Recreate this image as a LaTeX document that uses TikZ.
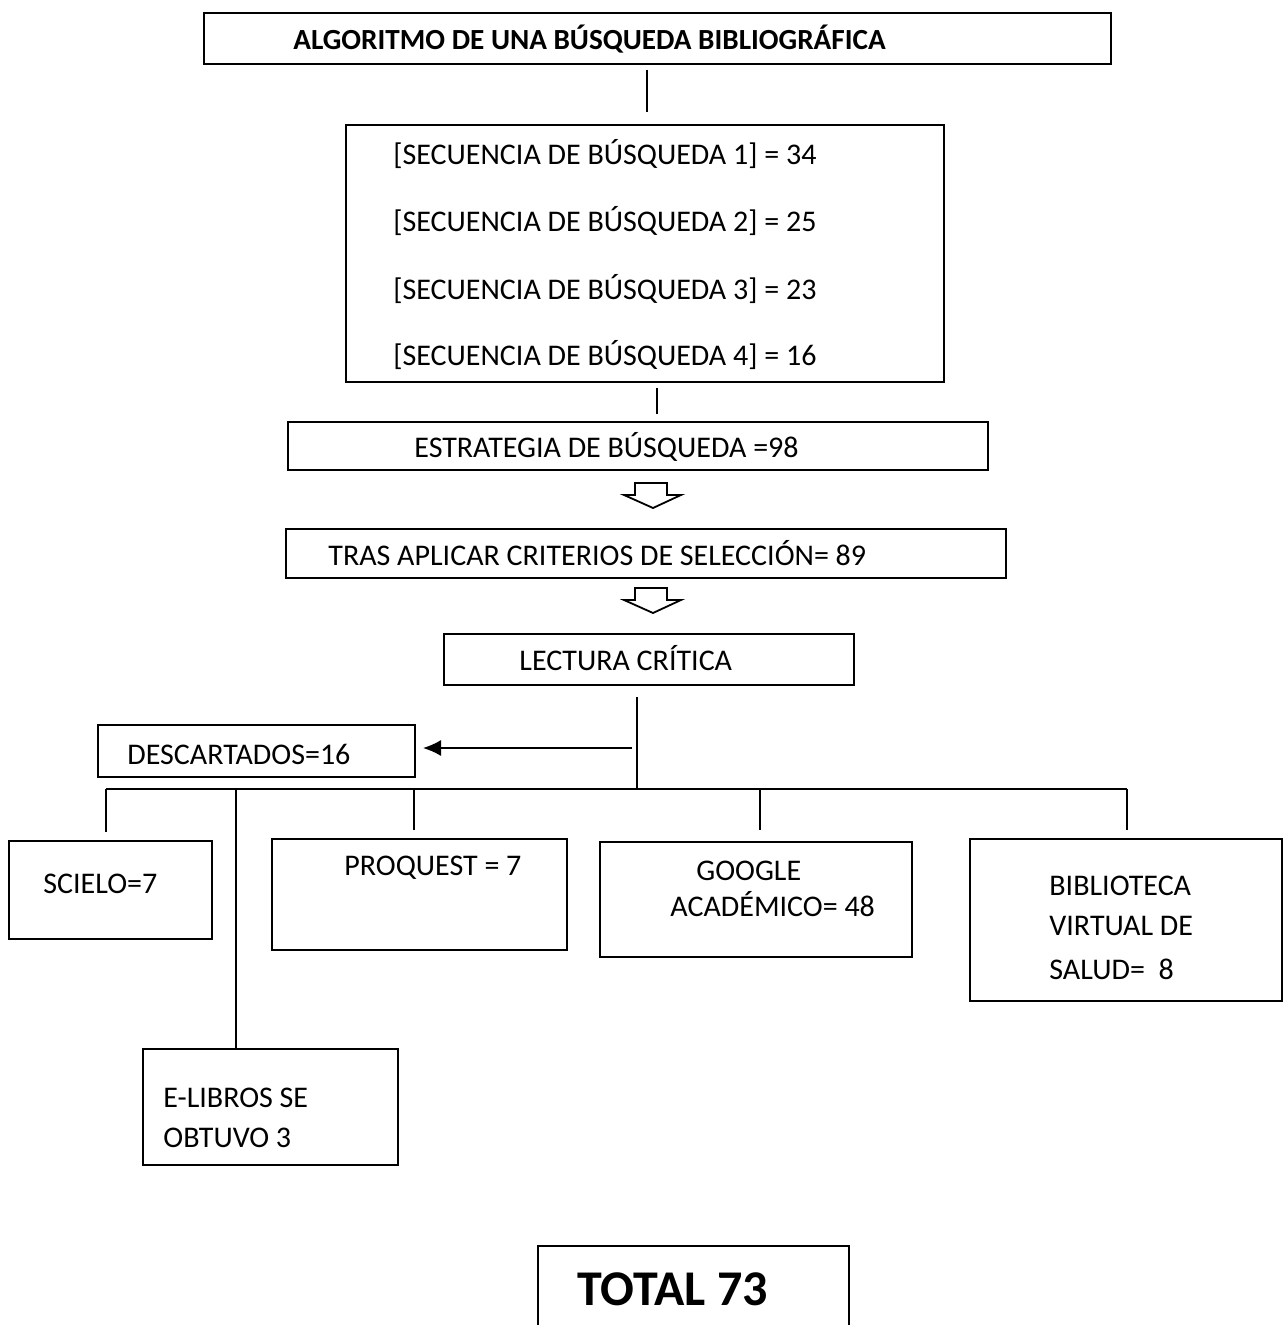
\documentclass[tikz,border=0pt]{standalone}
\usepackage{fontspec}
\setmainfont{Carlito}
\usepackage{tikz}
\usetikzlibrary{arrows.meta}

\tikzset{
  box/.style={draw, line width=1pt, inner sep=0pt, anchor=north west},
  txt/.style={anchor=base west, inner sep=0pt, font=\fontsize{15}{18}\selectfont},
  link/.style={line width=0.75pt},
  hollow/.style={draw, line width=0.9pt, fill=white}
}

\begin{document}
\begin{tikzpicture}[x=0.5pt, y=-0.5pt]
\useasboundingbox (0,0) rectangle (1282,1325);

\node (title) [box, minimum width=453.5pt, minimum height=25.5pt] at (203,12) {};
\node (seq) [box, minimum width=299pt, minimum height=128.5pt] at (345,124) {};
\node (estr) [box, minimum width=350pt, minimum height=24pt] at (287,421) {};
\node (crit) [box, minimum width=360pt, minimum height=24.5pt] at (285,528) {};
\node (lect) [box, minimum width=205pt, minimum height=25.5pt] at (443,633) {};
\node (desc) [box, minimum width=158.5pt, minimum height=26pt] at (97,724) {};
\node (scielo) [box, minimum width=101.5pt, minimum height=49pt] at (8,840) {};
\node (proq) [box, minimum width=147.5pt, minimum height=55.5pt] at (271,838) {};
\node (goog) [box, minimum width=156pt, minimum height=57.5pt] at (599,841) {};
\node (bvs) [box, minimum width=156pt, minimum height=81pt] at (969,838) {};
\node (elib) [box, minimum width=127.5pt, minimum height=58pt] at (142,1048) {};
\node (total) [box, minimum width=155.5pt, minimum height=50pt] at (537,1245) {};

\node (titletxt) [txt, font=\fontsize{14.6}{18}\selectfont\bfseries] at (293,50) {ALGORITMO DE UNA BÚSQUEDA BIBLIOGRÁFICA};
\node (seq1) [txt] at (393,165) {[SECUENCIA DE BÚSQUEDA 1] = 34};
\node (seq2) [txt] at (393,232) {[SECUENCIA DE BÚSQUEDA 2] = 25};
\node (seq3) [txt] at (393,300) {[SECUENCIA DE BÚSQUEDA 3] = 23};
\node (seq4) [txt] at (393,366) {[SECUENCIA DE BÚSQUEDA 4] = 16};
\node (estrtxt) [txt] at (414,458) {ESTRATEGIA DE BÚSQUEDA =98};
\node (crittxt) [txt] at (328,565) {TRAS APLICAR CRITERIOS DE SELECCIÓN= 89};
\node (lecttxt) [txt] at (519,670) {LECTURA CRÍTICA};
\node (desctxt) [txt] at (127,764) {DESCARTADOS=16};
\node (scielotxt) [txt] at (43,893) {SCIELO=7};
\node (proqtxt) [txt] at (344,875) {PROQUEST = 7};
\node (goog1) [txt] at (696,880) {GOOGLE};
\node (goog2) [txt] at (670,916) {ACADÉMICO= 48};
\node (bvs1) [txt] at (1049,895) {BIBLIOTECA};
\node (bvs2) [txt] at (1049,935) {VIRTUAL DE};
\node (bvs3) [txt] at (1049,979) {SALUD=\ \ 8};
\node (elib1) [txt] at (163,1107) {E-LIBROS SE};
\node (elib2) [txt] at (163,1147) {OBTUVO 3};
\node (totaltxt) [txt, font=\fontsize{25}{30}\selectfont\bfseries] at (577,1305) {TOTAL 73};

\coordinate (t1) at (647,70);
\coordinate (t2) at (647,112);
\coordinate (s1) at (657,388);
\coordinate (s2) at (657,414);
\coordinate (l1) at (637,697);
\coordinate (l2) at (637,789);
\coordinate (a1) at (632,748);
\coordinate (a2) at (423,748);
\coordinate (h1) at (106,789);
\coordinate (h2) at (1127,789);
\coordinate (d1) at (106,832);
\coordinate (d2) at (236,789);
\coordinate (d3) at (414,789);
\coordinate (d4) at (414,830);
\coordinate (d5) at (760,789);
\coordinate (d6) at (760,830);
\coordinate (d7) at (1127,830);

\draw[link](t1)--(t2);
\draw[link](s1)--(s2);
\draw[link](l1)--(l2);
\draw[link](h1)--(h2);
\draw[link](h1)--(d1);
\draw[link](d2)--(d2|-elib.north);
\draw[link](d3)--(d4);
\draw[link](d5)--(d6);
\draw[link](h2)--(d7);
\draw[link, -{Latex[length=9pt, width=8pt]}](a1)--(a2);

\foreach \t in {483,588}
  \draw[hollow] (635,\t) -- (667,\t) -- (667,\t+12) -- (681,\t+12) -- (653,\t+25)
    -- (624,\t+12) -- (635,\t+12) -- cycle;
\end{tikzpicture}
\end{document}
